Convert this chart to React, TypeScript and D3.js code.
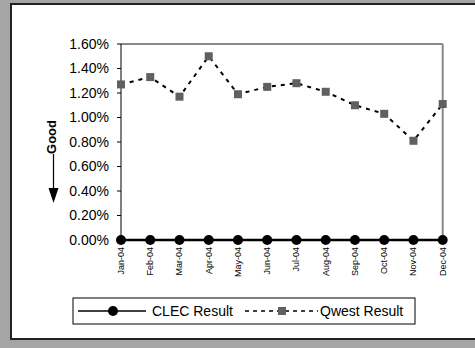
import React from "react";
import * as d3 from "d3";

const months = ["Jan-04","Feb-04","Mar-04","Apr-04","May-04","Jun-04","Jul-04","Aug-04","Sep-04","Oct-04","Nov-04","Dec-04"];
const clecValues = [0,0,0,0,0,0,0,0,0,0,0,0];
const qwestValues = [1.27,1.33,1.17,1.50,1.19,1.25,1.28,1.21,1.10,1.03,0.81,1.11];
const yTicks = [0,0.2,0.4,0.6,0.8,1.0,1.2,1.4,1.6];
const seriesNames = ["CLEC Result","Qwest Result"];

const W = 475, H = 348;
const plot = { left: 121, right: 442.7, top: 44, bottom: 240 };
const font = "'Liberation Sans', Arial, sans-serif";

export default function App() {
  const x = d3.scalePoint<string>().domain(months).range([plot.left, plot.right]);
  const y = d3.scaleLinear().domain([0, 1.6]).range([plot.bottom, plot.top]);
  const line = d3.line<number>().x((_, i) => x(months[i])!).y(d => y(d));
  return (
    <svg width={W} height={H} style={{ position: "absolute", left: 0, top: 0 }}>
      <rect x={0} y={0} width={W} height={H} fill="#a5a5a5" />
      <rect x={11} y={4} width={520} height={335} fill="#fff" stroke="#222" strokeWidth={2} />
      {/* plot frame */}
      <line x1={plot.left} x2={plot.right} y1={plot.top} y2={plot.top} stroke="#888" strokeWidth={2} />
      <line x1={plot.right} x2={plot.right} y1={plot.top} y2={plot.bottom} stroke="#888" strokeWidth={2} />
      <line x1={plot.left} x2={plot.left} y1={plot.top} y2={plot.bottom} stroke="#000" strokeWidth={1} />
      {yTicks.map(t => (
        <g key={t}>
          <line x1={plot.left - 4} x2={plot.left} y1={y(t)} y2={y(t)} stroke="#000" />
          <text x={plot.left - 12} y={y(t)} dy="0.35em" textAnchor="end" fontFamily={font} fontSize={14} fill="#000">
            {d3.format(".2f")(t) + "%"}
          </text>
        </g>
      ))}
      {months.map(m => (
        <text key={m} transform={`translate(${x(m)! + 3},247) rotate(-90)`} textAnchor="end" fontFamily={font} fontSize={9} fill="#000">{m}</text>
      ))}
      {/* Good arrow */}
      <text transform="translate(56,137) rotate(-90)" textAnchor="middle" fontFamily={font} fontSize={13} fontWeight="bold" fill="#000">Good</text>
      <line x1={53.5} x2={53.5} y1={154} y2={192} stroke="#000" strokeWidth={1.2} />
      <path d="M48.5,188 L58.5,188 L53.5,203 Z" fill="#000" />
      {/* series */}
      <path d={line(qwestValues)!} fill="none" stroke="#000" strokeWidth={2} strokeDasharray="4,5" />
      {qwestValues.map((v, i) => (
        <rect key={i} x={x(months[i])! - 4} y={y(v) - 4} width={8} height={8} fill="#606060" />
      ))}
      <path d={line(clecValues)!} fill="none" stroke="#000" strokeWidth={2.5} />
      {clecValues.map((v, i) => (
        <circle key={i} cx={x(months[i])!} cy={y(v)} r={5} fill="#000" />
      ))}
      {/* legend */}
      <rect x={73} y={298} width={342} height={26} fill="#fff" stroke="#000" strokeWidth={1} />
      <line x1={78} x2={146} y1={311} y2={311} stroke="#000" strokeWidth={1.5} />
      <circle cx={113} cy={311} r={5} fill="#000" />
      <text x={152} y={311} dy="0.36em" fontFamily={font} fontSize={14} fill="#000">{seriesNames[0]}</text>
      <line x1={245} x2={318} y1={311} y2={311} stroke="#000" strokeWidth={1.5} strokeDasharray="4,4" />
      <rect x={278} y={307} width={8} height={8} fill="#606060" />
      <text x={320} y={311} dy="0.36em" fontFamily={font} fontSize={14} fill="#000">{seriesNames[1]}</text>
    </svg>
  );
}
